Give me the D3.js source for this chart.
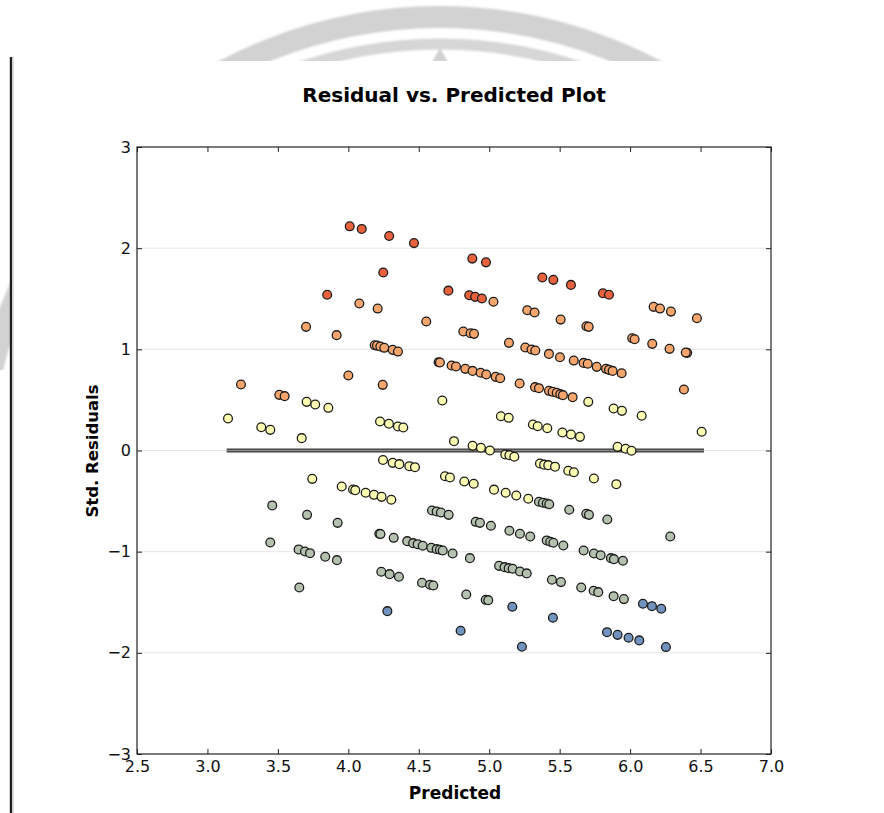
<!DOCTYPE html>
<html>
<head>
<meta charset="utf-8">
<script src="https://cdn.jsdelivr.net/npm/d3@7"></script>
<style>
  html, body { margin: 0; padding: 0; background: #fff; }
  svg { display: block; }
  .tick text { font-family: "DejaVu Sans", sans-serif; }
</style>
</head>
<body>
<svg id="chart" width="884" height="813"></svg>
<script>
// ---------- data ----------
const title = "Residual vs. Predicted Plot";
const xLabel = "Predicted";
const yLabel = "Std. Residuals";
const xTicks = [2.5, 3.0, 3.5, 4.0, 4.5, 5.0, 5.5, 6.0, 6.5, 7.0];
const yTicks = [-3, -2, -1, 0, 1, 2, 3];
const gridValues = [-2, -1, 0, 1, 2];
const refLineX = [3.137, 6.524];
const refLineY = [0, 0];

const predicted = [
  4.01, 4.095, 4.29, 4.466, 4.248, 3.85, 4.71, 4.88, 4.977, 5.377,
  5.455, 5.58, 5.807, 5.85, 4.858, 4.90, 4.948, 5.03, 4.078, 4.208,
  3.70, 3.917, 4.553, 4.816, 4.868, 4.892, 5.27, 5.322, 5.507, 5.69,
  5.706, 6.167, 6.212, 6.29, 6.474, 6.015, 6.032, 6.157, 6.28, 6.405,
  6.395, 4.187, 4.203, 4.227, 4.255, 4.315, 4.352, 4.641, 4.650, 4.733,
  4.764, 4.83, 4.882, 4.939, 4.979, 5.046, 5.078, 5.14, 5.256, 5.30,
  5.327, 5.424, 5.502, 5.60, 5.67, 5.699, 5.763, 5.829, 5.85, 5.876,
  5.94, 3.238, 3.51, 3.548, 4.0, 4.244, 5.216, 5.325, 5.353, 5.424,
  5.45, 5.479, 5.504, 5.523, 5.592, 6.382,
  3.704, 3.765, 3.858, 4.667, 3.146, 3.382, 3.446, 3.669, 4.225, 4.288,
  4.352, 4.39, 5.083, 5.138, 4.75, 4.882, 4.941, 5.005, 5.703, 5.883,
  5.942, 6.082, 6.508, 5.31, 5.344, 5.412, 5.519, 5.58, 5.644, 5.911,
  5.968, 6.01,
  4.246, 4.315, 4.362, 4.433, 4.473, 5.114, 5.143, 5.178, 5.36, 5.39,
  5.419, 5.467, 5.561, 5.601, 5.743, 5.902, 3.744, 3.953, 4.033, 4.049,
  4.123, 4.182, 4.236, 4.305, 4.686, 4.721, 4.823, 4.89, 5.034, 5.117,
  5.192, 5.277,
  5.353, 5.381, 5.408, 5.426, 5.568, 5.689, 5.708, 5.838, 6.285, 3.46,
  3.707, 3.924, 4.594, 4.627, 4.657, 4.712, 4.904, 4.934, 5.012, 5.143,
  5.218, 5.291, 5.408, 5.433, 5.455, 5.526, 5.67, 5.743, 5.791, 5.864,
  5.885, 5.949, 3.446, 3.647, 3.692, 3.728, 3.836, 3.919, 4.22, 4.228,
  4.322, 4.418, 4.46, 4.492, 4.528, 4.589, 4.627, 4.65, 4.67, 4.74,
  4.863, 5.07, 5.109, 5.138, 5.166, 5.218, 5.266, 5.445, 5.509, 5.653,
  5.741, 5.774, 5.883, 5.956, 4.234, 4.293, 4.359, 4.523, 4.58, 4.603,
  3.652, 4.837, 4.975, 4.993,
  6.091, 6.155, 6.221, 5.164, 5.452, 5.836, 5.911, 5.989, 6.065, 6.254,
  5.232, 4.277, 4.797
];
const residuals = [
  2.216, 2.19, 2.12, 2.05, 1.76, 1.54, 1.58, 1.897, 1.86, 1.71,
  1.687, 1.637, 1.554, 1.54, 1.535, 1.519, 1.502, 1.47, 1.453, 1.403,
  1.222, 1.14, 1.275, 1.176, 1.159, 1.153, 1.386, 1.364, 1.294, 1.228,
  1.222, 1.42, 1.403, 1.373, 1.307, 1.11, 1.10, 1.054, 1.005, 0.965,
  0.968, 1.04, 1.037, 1.028, 1.015, 0.995, 0.978, 0.873, 0.870, 0.84,
  0.83, 0.807, 0.787, 0.768, 0.751, 0.728, 0.714, 1.064, 1.018, 0.998,
  0.988, 0.955, 0.922, 0.889, 0.866, 0.857, 0.827, 0.807, 0.797, 0.787,
  0.764, 0.652, 0.55, 0.537, 0.741, 0.649, 0.662, 0.626, 0.616, 0.59,
  0.58, 0.571, 0.557, 0.547, 0.527, 0.603,
  0.481, 0.455, 0.422, 0.494, 0.316, 0.23, 0.204, 0.122, 0.287, 0.264,
  0.237, 0.227, 0.339, 0.323, 0.092, 0.046, 0.027, 0.0, 0.481, 0.415,
  0.392, 0.343, 0.185, 0.257, 0.24, 0.22, 0.178, 0.158, 0.135, 0.036,
  0.017, -0.003,
  -0.094, -0.122, -0.135, -0.155, -0.165, -0.04, -0.046, -0.062, -0.128, -0.14,
  -0.145, -0.16, -0.20, -0.215, -0.277, -0.333, -0.28, -0.356, -0.385, -0.392,
  -0.418, -0.438, -0.458, -0.487, -0.254, -0.267, -0.306, -0.329, -0.387, -0.418,
  -0.445, -0.477,
  -0.507, -0.517, -0.524, -0.531, -0.586, -0.626, -0.636, -0.682, -0.85, -0.543,
  -0.636, -0.715, -0.593, -0.603, -0.613, -0.636, -0.705, -0.715, -0.744, -0.793,
  -0.823, -0.85, -0.889, -0.902, -0.912, -0.939, -0.988, -1.018, -1.035, -1.064,
  -1.074, -1.09, -0.909, -0.978, -0.998, -1.015, -1.05, -1.084, -0.823, -0.826,
  -0.863, -0.896, -0.916, -0.926, -0.942, -0.962, -0.975, -0.981, -0.988, -1.018,
  -1.064, -1.14, -1.153, -1.163, -1.169, -1.196, -1.215, -1.278, -1.301, -1.354,
  -1.386, -1.40, -1.44, -1.469, -1.199, -1.222, -1.248, -1.307, -1.327, -1.334,
  -1.354, -1.423, -1.476, -1.479,
  -1.515, -1.539, -1.564, -1.545, -1.653, -1.796, -1.822, -1.851, -1.877, -1.943,
  -1.94, -1.588, -1.782
];
const colorBreaks = [-1.5, -0.5, 0.5, 1.5];
const colorSteps = ["#7193bd", "#b3c1ae", "#fbfbb2", "#f6a66c", "#e8623d"];

// ---------- drawing ----------
const svg = d3.select("#chart");
const W = 884, H = 813;
const plot = { left: 137, right: 771, top: 147, bottom: 754 };

// background watermark (faint ring) visible only outside the white panel
const defs = svg.append("defs");
const clip = defs.append("clipPath").attr("id", "wmclip");
clip.append("rect").attr("x", 0).attr("y", 0).attr("width", W).attr("height", 61);
clip.append("rect").attr("x", 0).attr("y", 250).attr("width", 10).attr("height", 120);
const blur = defs.append("filter").attr("id", "soft");
blur.append("feGaussianBlur").attr("stdDeviation", 1.2);

const wm = svg.append("g").attr("clip-path", "url(#wmclip)").attr("filter", "url(#soft)");
wm.append("circle").attr("cx", 440).attr("cy", 478).attr("r", 461)
  .attr("fill", "none").attr("stroke", "#d2d2d2").attr("stroke-width", 22);
wm.append("circle").attr("cx", 440).attr("cy", 478).attr("r", 434)
  .attr("fill", "none").attr("stroke", "#d6d6d6").attr("stroke-width", 11);
wm.append("path").attr("d", "M432,62 L440,48 L448,62 Z").attr("fill", "#d0d0d0");

// left border line
svg.append("line").attr("x1", 11).attr("x2", 11).attr("y1", 57).attr("y2", H)
  .attr("stroke", "#1e1e1e").attr("stroke-width", 2.4);
svg.append("line").attr("x1", 13.2).attr("x2", 13.2).attr("y1", 57).attr("y2", H)
  .attr("stroke", "#d0d0d0").attr("stroke-width", 1);

const x = d3.scaleLinear().domain([2.5, 7.0]).range([plot.left, plot.right]);
const y = d3.scaleLinear().domain([-3, 3]).range([plot.bottom, plot.top]);
const color = d3.scaleThreshold().domain(colorBreaks).range(colorSteps);

// gridlines
svg.append("g").selectAll("line").data(gridValues).join("line")
  .attr("x1", plot.left).attr("x2", plot.right)
  .attr("y1", d => y(d)).attr("y2", d => y(d))
  .attr("stroke", "#e6e6e6").attr("stroke-width", 1);

// zero reference line
const refData = refLineX.map((v, i) => [v, refLineY[i]]);
const ln = d3.line().x(d => x(d[0])).y(d => y(d[1]));
svg.append("path").attr("d", ln(refData)).attr("stroke", "#3a3a3a").attr("stroke-width", 4).attr("fill", "none");
svg.append("path").attr("d", ln(refData)).attr("stroke", "#8c8c8c").attr("stroke-width", 1.3).attr("fill", "none");

// points
const pts = predicted.map((p, i) => ({ p, r: residuals[i] }));
svg.append("g").selectAll("circle").data(pts).join("circle")
  .attr("cx", d => x(d.p)).attr("cy", d => y(d.r)).attr("r", 4.4)
  .attr("fill", d => color(d.r))
  .attr("stroke", "#1c1c1c").attr("stroke-width", 1.3);

// axes
const fmtX = d3.format(".1f");
const fmtY = d3.format("d");
const gx = svg.append("g").attr("transform", `translate(0,${plot.bottom})`)
  .call(d3.axisBottom(x).tickValues(xTicks).tickFormat(fmtX).tickSize(-5).tickPadding(7));
const gy = svg.append("g").attr("transform", `translate(${plot.left},0)`)
  .call(d3.axisLeft(y).tickValues(yTicks).tickFormat(fmtY).tickSize(-5).tickPadding(6));
const gt = svg.append("g").attr("transform", `translate(0,${plot.top})`)
  .call(d3.axisTop(x).tickValues(xTicks).tickFormat("").tickSize(-5));
const gr = svg.append("g").attr("transform", `translate(${plot.right},0)`)
  .call(d3.axisRight(y).tickValues(yTicks).tickFormat("").tickSize(-5));
[gx, gy, gt, gr].forEach(g => {
  g.select(".domain").remove();
  g.selectAll(".tick line").attr("stroke", "#222").attr("stroke-width", 1);
  g.selectAll(".tick text").attr("font-size", 16).attr("fill", "#111");
});

// frame
svg.append("rect").attr("x", plot.left).attr("y", plot.top)
  .attr("width", plot.right - plot.left).attr("height", plot.bottom - plot.top)
  .attr("fill", "none").attr("stroke", "#222").attr("stroke-width", 1.2);

// labels
const labelFont = '"DejaVu Sans", sans-serif';
svg.append("text").attr("x", 454).attr("y", 102).attr("text-anchor", "middle")
  .attr("font-family", labelFont)
  .attr("font-weight", "bold").attr("font-size", 20).attr("fill", "#000").text(title);
svg.append("text").attr("x", 455).attr("y", 799).attr("text-anchor", "middle")
  .attr("font-family", labelFont)
  .attr("font-weight", "bold").attr("font-size", 17).attr("fill", "#000").text(xLabel);
svg.append("text").attr("transform", "translate(98,451) rotate(-90)").attr("text-anchor", "middle")
  .attr("font-family", labelFont)
  .attr("font-weight", "bold").attr("font-size", 16.5).attr("fill", "#000").text(yLabel);
</script>
</body>
</html>
